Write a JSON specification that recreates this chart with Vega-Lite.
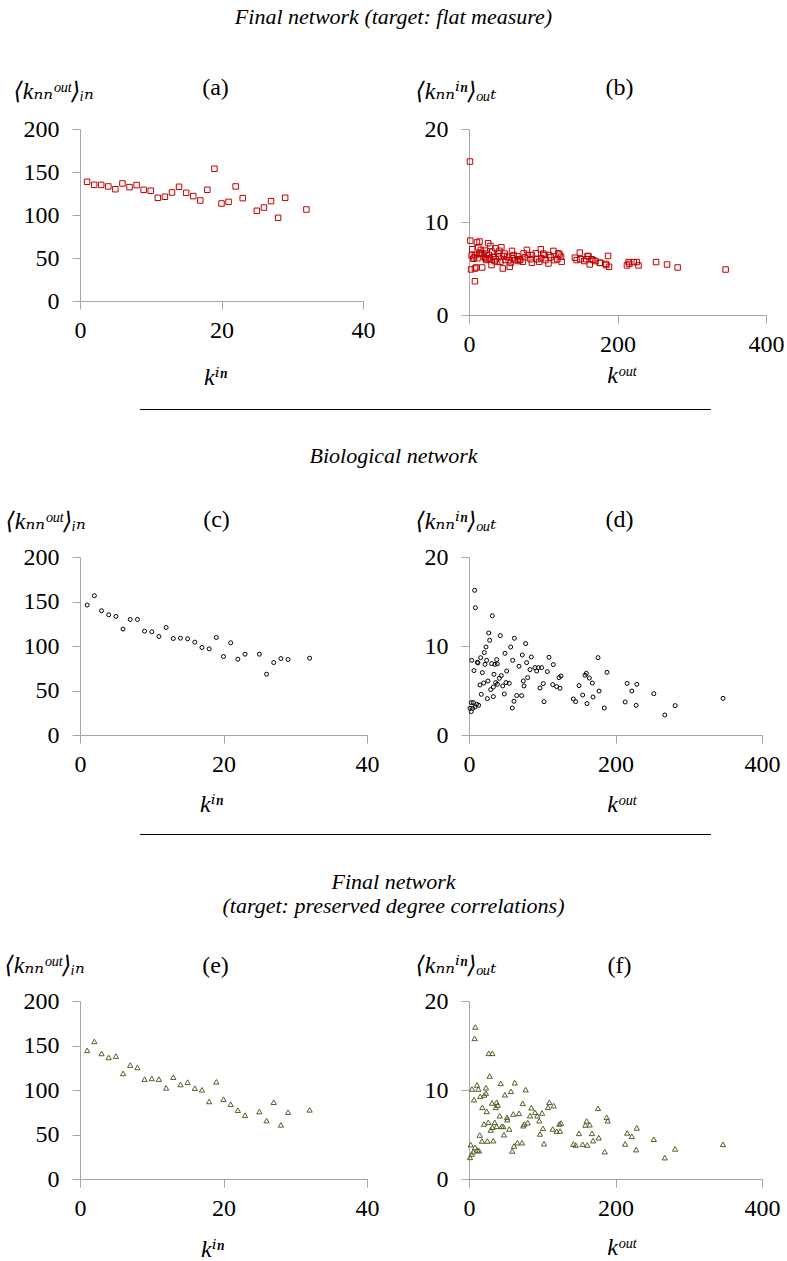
{
  "$schema": "https://vega.github.io/schema/vega-lite/v6.json",
  "autosize": "pad",
  "padding": {"left": 4, "top": 6, "right": 0, "bottom": 0},
  "background": "white",
  "config": {
    "font": "Liberation Serif",
    "view": {"stroke": null},
    "style": {"guide-label": {"font": "Liberation Serif"}, "guide-title": {"font": "Liberation Serif, DejaVu Serif"}, "group-title": {"font": "Liberation Serif"}},
    "axis": {"grid": false, "domainColor": "#A6A6A6", "tickColor": "#A6A6A6", "tickSize": 8, "domainWidth": 1, "tickWidth": 1,
      "labelFont": "Liberation Serif", "labelFontSize": 24, "labelColor": "#000", "labelFlush": false, "labelOverlap": false,
      "titleFont": "Liberation Serif, DejaVu Serif", "titleFontSize": 24, "titleFontWeight": "normal", "titleFontStyle": "italic", "titleColor": "#000"},
    "axisX": {"labelPadding": 9, "titleAlign": "center", "titleBaseline": "alphabetic"},
    "axisY": {"labelPadding": 13, "titleAngle": 0, "titleAlign": "left", "titleBaseline": "alphabetic"},
    "title": {"font": "Liberation Serif", "fontSize": 24, "fontWeight": "normal", "color": "#000", "anchor": "middle", "frame": "group"}
  },
  "datasets": {
    "a": [{"k":1,"v":138.6},{"k":2,"v":135.1},{"k":3,"v":135},{"k":4,"v":133.2},{"k":5,"v":130},{"k":6,"v":136.7},{"k":7,"v":132.4},{"k":8,"v":134.8},{"k":9,"v":129.3},{"k":10,"v":128.2},{"k":11,"v":120},{"k":12,"v":121.2},{"k":13,"v":126.2},{"k":14,"v":132.8},{"k":15,"v":125.8},{"k":16,"v":122},{"k":17,"v":116.9},{"k":18,"v":129.3},{"k":19,"v":153.8},{"k":20,"v":113.4},{"k":21,"v":115.3},{"k":22,"v":133.2},{"k":23,"v":119.6},{"k":25,"v":104.9},{"k":26,"v":108.7},{"k":27,"v":116.1},{"k":28,"v":96.7},{"k":29,"v":120},{"k":32,"v":106.4}],
    "c": [{"k":1,"v":146},{"k":2,"v":156.5},{"k":3,"v":139.6},{"k":4,"v":135.1},{"k":5,"v":133.2},{"k":6,"v":119},{"k":7,"v":129.8},{"k":8,"v":129.8},{"k":9,"v":116.7},{"k":10,"v":116},{"k":11,"v":110.7},{"k":12,"v":120.8},{"k":13,"v":108.4},{"k":14,"v":108.8},{"k":15,"v":108.1},{"k":16,"v":104.3},{"k":17,"v":98.3},{"k":18,"v":96.8},{"k":19,"v":109.6},{"k":20,"v":88.2},{"k":21,"v":103.6},{"k":22,"v":85.2},{"k":23,"v":90.8},{"k":25,"v":90.8},{"k":26,"v":68.3},{"k":27,"v":81.4},{"k":28,"v":85.9},{"k":29,"v":84.8},{"k":32,"v":86.3}],
    "e": [{"k":1,"v":144.5},{"k":2,"v":154.6},{"k":3,"v":141.1},{"k":4,"v":136.6},{"k":5,"v":138.1},{"k":6,"v":118.6},{"k":7,"v":128},{"k":8,"v":125.3},{"k":9,"v":112.2},{"k":10,"v":113},{"k":11,"v":112.2},{"k":12,"v":102.4},{"k":13,"v":114.4},{"k":14,"v":106.2},{"k":15,"v":108.8},{"k":16,"v":102.1},{"k":17,"v":100.2},{"k":18,"v":87.1},{"k":19,"v":109.2},{"k":20,"v":89.7},{"k":21,"v":84},{"k":22,"v":77.3},{"k":23,"v":71.7},{"k":25,"v":75.8},{"k":26,"v":65.7},{"k":27,"v":86.3},{"k":28,"v":60.8},{"k":29,"v":75},{"k":32,"v":77.7}],
    "b": [{"k":1.3,"v":16.5},{"k":1.8,"v":8.0},{"k":2.7,"v":4.9},{"k":3.6,"v":6.4},{"k":4.4,"v":7.07},{"k":5.8,"v":6.05},{"k":6.8,"v":6.2},{"k":8,"v":3.63},{"k":8,"v":5.0},{"k":8.8,"v":6.45},{"k":9.8,"v":5.11},{"k":10.7,"v":7.8},{"k":11.4,"v":6.1},{"k":12.5,"v":7.3},{"k":14.2,"v":7.9},{"k":14,"v":6.6},{"k":15.5,"v":6.63},{"k":16,"v":7.0},{"k":17.8,"v":5.11},{"k":18,"v":6.6},{"k":20,"v":6.27},{"k":21.4,"v":6.92},{"k":22,"v":6.1},{"k":23.1,"v":5.91},{"k":23.6,"v":6.6},{"k":25,"v":6.0},{"k":25.8,"v":7.72},{"k":26.8,"v":6.45},{"k":28,"v":6.1},{"k":28.9,"v":7.43},{"k":30.3,"v":5.37},{"k":31.2,"v":6.8},{"k":33.4,"v":6.27},{"k":34.3,"v":5.8},{"k":35.6,"v":7.17},{"k":36,"v":6.0},{"k":38,"v":5.7},{"k":39.2,"v":6.63},{"k":40.1,"v":6.27},{"k":41,"v":6.9},{"k":42.3,"v":5.73},{"k":43.6,"v":7.28},{"k":45.5,"v":5.0},{"k":46.8,"v":6.35},{"k":48,"v":6.6},{"k":49,"v":5.91},{"k":51.2,"v":6.27},{"k":53.5,"v":5.91},{"k":54.8,"v":5.18},{"k":56,"v":5.6},{"k":57.9,"v":6.89},{"k":59,"v":6.1},{"k":60.2,"v":6.45},{"k":62.4,"v":5.91},{"k":65,"v":6.3},{"k":66,"v":5.8},{"k":68,"v":6.0},{"k":69,"v":5.91},{"k":72.6,"v":5.73},{"k":73.6,"v":6.63},{"k":75,"v":6.2},{"k":78,"v":7.0},{"k":79.3,"v":6.45},{"k":83,"v":6.0},{"k":84.7,"v":6.45},{"k":84.7,"v":5.62},{"k":90,"v":6.63},{"k":92,"v":6.0},{"k":94.5,"v":5.73},{"k":96.7,"v":7.07},{"k":97.2,"v":6.09},{"k":100,"v":6.6},{"k":101.7,"v":6.45},{"k":103,"v":5.9},{"k":107,"v":5.54},{"k":107.9,"v":6.45},{"k":110,"v":6.2},{"k":113.7,"v":6.89},{"k":115,"v":5.9},{"k":119,"v":6.0},{"k":120.4,"v":6.63},{"k":122,"v":6.5},{"k":124,"v":6.27},{"k":124.8,"v":5.73},{"k":142.6,"v":6.16},{"k":144.9,"v":5.91},{"k":149.3,"v":6.71},{"k":150,"v":6.0},{"k":155.2,"v":5.8},{"k":158,"v":6.0},{"k":159.6,"v":6.35},{"k":161,"v":6.3},{"k":162.7,"v":5.44},{"k":165,"v":6.0},{"k":167.2,"v":5.91},{"k":170.3,"v":5.8},{"k":176,"v":5.62},{"k":177,"v":5.6},{"k":184,"v":5.5},{"k":185,"v":5.37},{"k":187.3,"v":6.35},{"k":188.6,"v":5.18},{"k":212.7,"v":5.33},{"k":214.9,"v":5.69},{"k":216,"v":5.5},{"k":222,"v":5.69},{"k":226,"v":5.69},{"k":228.3,"v":5.33},{"k":252,"v":5.69},{"k":266.7,"v":5.43},{"k":281,"v":5.11},{"k":345.6,"v":4.89}],
    "d": [{"k":7.7,"v":16.26},{"k":8.7,"v":14.3},{"k":31.8,"v":13.4},{"k":26.9,"v":11.46},{"k":42.7,"v":11.17},{"k":28.2,"v":10.64},{"k":61.9,"v":10.87},{"k":77.4,"v":10.27},{"k":56.9,"v":9.89},{"k":23.2,"v":9.89},{"k":20.9,"v":9.26},{"k":49.1,"v":9.18},{"k":72.8,"v":8.99},{"k":3.7,"v":8.39},{"k":11.4,"v":8.17},{"k":12.2,"v":8.1},{"k":15.9,"v":8.69},{"k":24.1,"v":8.39},{"k":21.8,"v":7.94},{"k":30.9,"v":8.02},{"k":35.5,"v":7.94},{"k":37.8,"v":8.47},{"k":38.7,"v":8.0},{"k":59.6,"v":8.39},{"k":85.1,"v":8.77},{"k":78.7,"v":8.13},{"k":68.3,"v":7.72},{"k":109.2,"v":8.73},{"k":115.1,"v":7.91},{"k":90.1,"v":7.57},{"k":94.6,"v":7.57},{"k":99.2,"v":7.57},{"k":92.4,"v":7.19},{"k":83.3,"v":7.35},{"k":106.9,"v":7.12},{"k":6.8,"v":7.24},{"k":18.2,"v":7.01},{"k":51.4,"v":7.19},{"k":34.1,"v":6.82},{"k":44.1,"v":6.67},{"k":41.4,"v":6.37},{"k":25.9,"v":6.07},{"k":20.1,"v":5.84},{"k":15,"v":5.62},{"k":36.4,"v":5.89},{"k":38.7,"v":5.7},{"k":50.5,"v":5.89},{"k":55,"v":5.81},{"k":74.1,"v":6.07},{"k":80.1,"v":6.45},{"k":75.1,"v":5.51},{"k":46,"v":5.51},{"k":29.6,"v":5.1},{"k":33.2,"v":5.39},{"k":96.9,"v":5.28},{"k":101.4,"v":5.77},{"k":114.3,"v":5.66},{"k":119.7,"v":5.44},{"k":124.2,"v":5.25},{"k":122.9,"v":6.45},{"k":125.6,"v":6.63},{"k":48.2,"v":4.61},{"k":16.8,"v":4.57},{"k":33.2,"v":4.31},{"k":25,"v":4.09},{"k":65.1,"v":4.43},{"k":71.9,"v":4.43},{"k":61.4,"v":3.79},{"k":102.4,"v":3.75},{"k":59.1,"v":3.03},{"k":3.1,"v":3.64},{"k":5.9,"v":3.64},{"k":10.5,"v":3.45},{"k":13.2,"v":3.34},{"k":1.4,"v":3.0},{"k":5,"v":3.0},{"k":3.1,"v":2.63},{"k":8.2,"v":3.15},{"k":142.4,"v":4.05},{"k":145.6,"v":3.75},{"k":150.2,"v":5.55},{"k":155.2,"v":4.49},{"k":158.4,"v":6.71},{"k":160.2,"v":6.93},{"k":164.3,"v":6.4},{"k":168.4,"v":5.84},{"k":161.1,"v":3.53},{"k":169.3,"v":4.27},{"k":177.5,"v":4.94},{"k":176.1,"v":8.69},{"k":184.7,"v":3.03},{"k":188.4,"v":7.05},{"k":215.9,"v":5.8},{"k":222.3,"v":4.94},{"k":229.1,"v":5.69},{"k":228.2,"v":3.33},{"k":213.2,"v":3.71},{"k":252.3,"v":4.64},{"k":267.3,"v":2.25},{"k":281.4,"v":3.3},{"k":346.8,"v":4.12}],
    "f": [{"k":8.6,"v":17.08},{"k":7.7,"v":15.8},{"k":26.9,"v":14.12},{"k":31.8,"v":14.12},{"k":28.2,"v":11.57},{"k":43.3,"v":10.75},{"k":62.4,"v":10.82},{"k":77.4,"v":10.04},{"k":57.3,"v":9.85},{"k":49.1,"v":9.47},{"k":10.9,"v":10.56},{"k":4.1,"v":10.11},{"k":12.7,"v":10.11},{"k":23.2,"v":10.26},{"k":23.2,"v":9.66},{"k":15.4,"v":9.29},{"k":20.9,"v":9.44},{"k":6.8,"v":8.91},{"k":31.4,"v":8.54},{"k":37.8,"v":8.62},{"k":39.2,"v":8.31},{"k":36.4,"v":8.05},{"k":18.2,"v":8.05},{"k":24.2,"v":7.6},{"k":73.3,"v":8.5},{"k":85.1,"v":8.01},{"k":109.6,"v":8.62},{"k":107.8,"v":8.05},{"k":115.6,"v":8.24},{"k":90.1,"v":7.49},{"k":93.3,"v":7.11},{"k":99.7,"v":7.42},{"k":83.3,"v":7.11},{"k":96,"v":6.55},{"k":60.5,"v":7.3},{"k":68.3,"v":7.38},{"k":51.9,"v":6.93},{"k":52.3,"v":6.67},{"k":41.9,"v":7.11},{"k":20.5,"v":6.18},{"k":26.4,"v":6.37},{"k":35.1,"v":6.37},{"k":31.8,"v":5.81},{"k":29.6,"v":5.51},{"k":37.8,"v":5.92},{"k":44.6,"v":5.92},{"k":46.8,"v":5.92},{"k":55,"v":5.62},{"k":74.1,"v":5.99},{"k":75.5,"v":6.18},{"k":80.1,"v":6.33},{"k":101,"v":5.69},{"k":96.9,"v":5.06},{"k":114.3,"v":5.62},{"k":119.7,"v":5.36},{"k":124.2,"v":5.39},{"k":123.3,"v":6.18},{"k":125.6,"v":6.29},{"k":47.8,"v":4.98},{"k":14.6,"v":4.94},{"k":17.7,"v":4.27},{"k":25,"v":4.27},{"k":33.2,"v":4.31},{"k":65.9,"v":4.08},{"k":72.4,"v":4.08},{"k":61.4,"v":3.71},{"k":59.1,"v":3.15},{"k":102.4,"v":3.97},{"k":2.3,"v":3.86},{"k":8.2,"v":3.56},{"k":11.4,"v":3.26},{"k":5.9,"v":3.07},{"k":3.7,"v":2.81},{"k":1.4,"v":2.43},{"k":13.7,"v":3.18},{"k":142.4,"v":3.93},{"k":145.6,"v":3.82},{"k":150.2,"v":5.13},{"k":155.2,"v":3.9},{"k":158.8,"v":6.07},{"k":160.6,"v":6.52},{"k":164.8,"v":6.1},{"k":167.9,"v":5.13},{"k":161.5,"v":3.82},{"k":169.3,"v":4.31},{"k":177.1,"v":4.64},{"k":176.1,"v":7.94},{"k":185.3,"v":3.07},{"k":188,"v":6.93},{"k":189.3,"v":6.55},{"k":215.9,"v":5.18},{"k":222.3,"v":4.8},{"k":229.1,"v":5.74},{"k":228.2,"v":3.3},{"k":213.2,"v":3.94},{"k":252.3,"v":4.47},{"k":267.3,"v":2.4},{"k":281.4,"v":3.38},{"k":346.8,"v":3.9}],
    "sep": [{"lo": 0, "hi": 1}]
  },
  "columns": 2,
  "align": "each",
  "bounds": "flush",
  "spacing": {"row": 0, "column": 102},
  "concat": [
    {"width": 287, "height": 1, "data": {"values": []}, "mark": "point",
     "title": {"text": "Final network (target: flat measure)", "fontStyle": "italic", "fontSize": 22, "orient": "top", "dx": 170, "offset": 99}},
    {"width": 1, "height": 1, "data": {"values": []}, "mark": "point"},
    {
      "width": 283, "height": 172,
      "title": {"text": "(a)", "dx": -6, "dy": 25},
      "data": {"name": "a"},
      "mark": {"type": "point", "shape": "square", "filled": false, "color": "#C00000", "strokeWidth": 1, "size": 30, "opacity": 1},
      "encoding": {
        "x": {"field": "k", "type": "quantitative", "scale": {"domain": [0, 40]}, "axis": {"values": [0, 20, 40], "title": "kⁱⁿ", "titleX": 135, "titleY": 83}},
        "y": {"field": "v", "type": "quantitative", "scale": {"domain": [0, 200]}, "axis": {"values": [0, 50, 100, 150, 200], "title": "⟨kₙₙᵒᵘᵗ⟩ᵢₙ", "titleX": -67, "titleY": -31}}
      }
    },
    {
      "width": 297, "height": 186,
      "title": {"text": "(b)", "dx": 2, "dy": 25},
      "data": {"name": "b"},
      "mark": {"type": "point", "shape": "square", "filled": false, "color": "#C00000", "strokeWidth": 1, "size": 30, "opacity": 1},
      "encoding": {
        "x": {"field": "k", "type": "quantitative", "scale": {"domain": [0, 400]}, "axis": {"values": [0, 200, 400], "title": "kᵒᵘᵗ", "titleX": 152, "titleY": 67}},
        "y": {"field": "v", "type": "quantitative", "scale": {"domain": [0, 20]}, "axis": {"values": [0, 10, 20], "title": "⟨kₙₙⁱⁿ⟩ₒᵤₜ", "titleX": -54, "titleY": -31}}
      }
    },
    {"width": 287, "height": 189, "data": {"name": "sep"}, "mark": {"type": "rule", "color": "#000", "strokeWidth": 1},
     "encoding": {"x": {"field": "lo", "type": "quantitative", "axis": null, "scale": {"domain": [0, 1], "range": [60, 631]}}, "x2": {"field": "hi"}}},
    {"width": 1, "height": 1, "data": {"values": []}, "mark": "point"},
    {"width": 287, "height": 53, "data": {"values": []}, "mark": "point",
     "title": {"text": "Biological network", "fontStyle": "italic", "fontSize": 22, "orient": "top", "dx": 170, "offset": 36}},
    {"width": 1, "height": 1, "data": {"values": []}, "mark": "point"},
    {
      "width": 287, "height": 178,
      "title": {"text": "(c)", "dx": -7, "dy": 27},
      "data": {"name": "c"},
      "mark": {"type": "point", "shape": "circle", "filled": false, "color": "#000", "strokeWidth": 1, "size": 16, "opacity": 1},
      "encoding": {
        "x": {"field": "k", "type": "quantitative", "scale": {"domain": [0, 40]}, "axis": {"values": [0, 20, 40], "title": "kⁱⁿ", "titleX": 131, "titleY": 76}},
        "y": {"field": "v", "type": "quantitative", "scale": {"domain": [0, 200]}, "axis": {"values": [0, 50, 100, 150, 200], "title": "⟨kₙₙᵒᵘᵗ⟩ᵢₙ", "titleX": -75, "titleY": -29}}
      }
    },
    {
      "width": 293, "height": 178,
      "title": {"text": "(d)", "dx": 4, "dy": 27},
      "data": {"name": "d"},
      "mark": {"type": "point", "shape": "circle", "filled": false, "color": "#000", "strokeWidth": 1, "size": 16, "opacity": 1},
      "encoding": {
        "x": {"field": "k", "type": "quantitative", "scale": {"domain": [0, 400]}, "axis": {"values": [0, 200, 400], "title": "kᵒᵘᵗ", "titleX": 152, "titleY": 76}},
        "y": {"field": "v", "type": "quantitative", "scale": {"domain": [0, 20]}, "axis": {"values": [0, 10, 20], "title": "⟨kₙₙⁱⁿ⟩ₒᵤₜ", "titleX": -54, "titleY": -29}}
      }
    },
    {"width": 287, "height": 199, "data": {"name": "sep"}, "mark": {"type": "rule", "color": "#000", "strokeWidth": 1},
     "encoding": {"x": {"field": "lo", "type": "quantitative", "axis": null, "scale": {"domain": [0, 1], "range": [60, 631]}}, "x2": {"field": "hi"}}},
    {"width": 1, "height": 1, "data": {"values": []}, "mark": "point"},
    {"width": 287, "height": 67, "data": {"values": []}, "mark": "point",
     "title": {"text": ["Final network", "(target: preserved degree correlations)"], "lineHeight": 24, "fontStyle": "italic", "fontSize": 22, "orient": "top", "dx": 170, "offset": 16}},
    {"width": 1, "height": 1, "data": {"values": []}, "mark": "point"},
    {
      "width": 287, "height": 178,
      "title": {"text": "(e)", "dx": -8, "dy": 29},
      "data": {"name": "e"},
      "mark": {"type": "point", "shape": "triangle-up", "filled": false, "color": "#4F6228", "strokeWidth": 1, "size": 28, "opacity": 1},
      "encoding": {
        "x": {"field": "k", "type": "quantitative", "scale": {"domain": [0, 40]}, "axis": {"values": [0, 20, 40], "title": "kⁱⁿ", "titleX": 132, "titleY": 77}},
        "y": {"field": "v", "type": "quantitative", "scale": {"domain": [0, 200]}, "axis": {"values": [0, 50, 100, 150, 200], "title": "⟨kₙₙᵒᵘᵗ⟩ᵢₙ", "titleX": -76, "titleY": -29}}
      }
    },
    {
      "width": 293, "height": 178,
      "title": {"text": "(f)", "dx": 4, "dy": 29},
      "data": {"name": "f"},
      "mark": {"type": "point", "shape": "triangle-up", "filled": false, "color": "#4F6228", "strokeWidth": 1, "size": 28, "opacity": 1},
      "encoding": {
        "x": {"field": "k", "type": "quantitative", "scale": {"domain": [0, 400]}, "axis": {"values": [0, 200, 400], "title": "kᵒᵘᵗ", "titleX": 152, "titleY": 75}},
        "y": {"field": "v", "type": "quantitative", "scale": {"domain": [0, 20]}, "axis": {"values": [0, 10, 20], "title": "⟨kₙₙⁱⁿ⟩ₒᵤₜ", "titleX": -54, "titleY": -29}}
      }
    }
  ]
}
